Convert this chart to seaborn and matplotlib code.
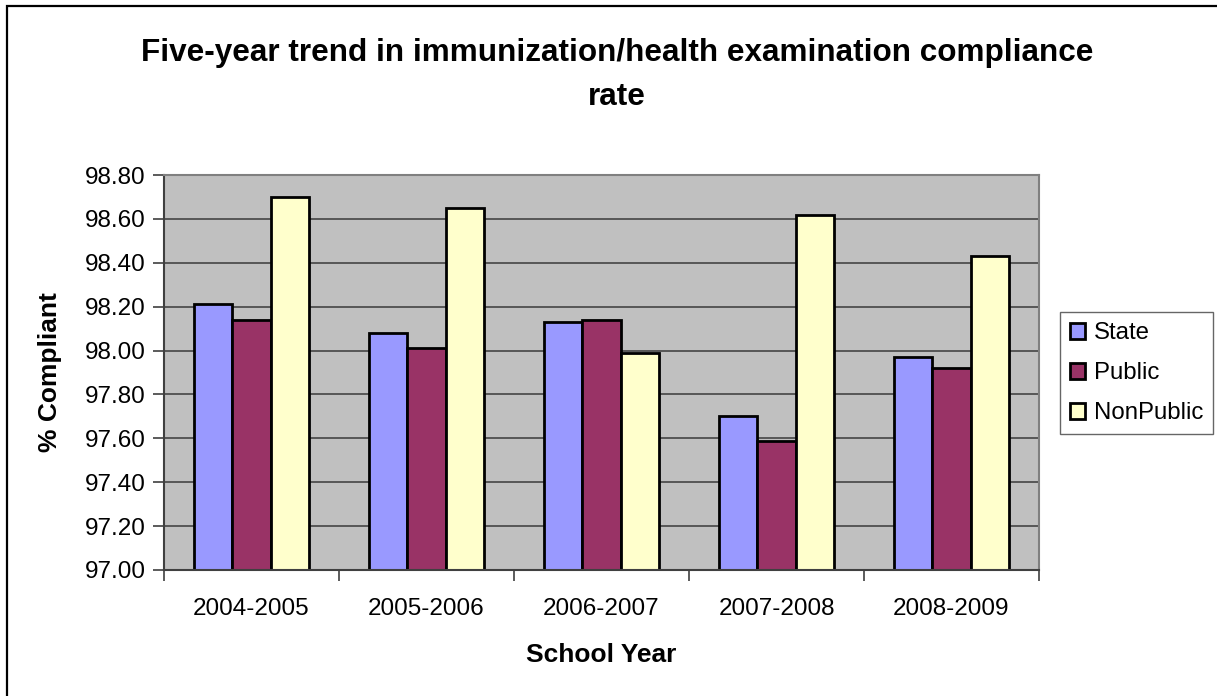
import numpy as np
import pandas as pd
import matplotlib
matplotlib.use("Agg")
import matplotlib.pyplot as plt
from matplotlib.patches import Rectangle
from matplotlib.ticker import FixedLocator
import seaborn as sns

sns.set_style("white")
plt.rcParams['font.family'] = ['Liberation Sans', 'DejaVu Sans']
plt.rcParams['text.color'] = 'black'
plt.rcParams['axes.labelcolor'] = 'black'
plt.rcParams['xtick.color'] = 'black'
plt.rcParams['ytick.color'] = 'black'

# values
years = ["2004-2005", "2005-2006", "2006-2007", "2007-2008", "2008-2009"]
groups = ["State", "Public", "NonPublic"]
state = [98.21, 98.08, 98.13, 97.70, 97.97]
public = [98.14, 98.01, 98.14, 97.59, 97.92]
nonpublic = [98.70, 98.65, 97.99, 98.62, 98.43]
colors = ["#9999FF", "#993366", "#FFFFCC"]
yticks = [97.00, 97.20, 97.40, 97.60, 97.80, 98.00, 98.20, 98.40, 98.60, 98.80]

df = pd.DataFrame({
    "year": years * 3,
    "group": ["State"] * 5 + ["Public"] * 5 + ["NonPublic"] * 5,
    "rate": state + public + nonpublic,
})

fig = plt.figure(figsize=(12.17, 6.96), dpi=100)
ax = fig.add_axes([164 / 1217, 1 - 570 / 696, 875 / 1217, 395 / 696])
ax.set_facecolor("#C0C0C0")

sns.barplot(data=df, x="year", y="rate", hue="group", order=years, hue_order=groups,
            palette=colors, saturation=1, width=0.66, edgecolor="black", linewidth=2,
            errorbar=None, ax=ax)

ax.set_ylim(97.0, 98.8)
ax.set_xlim(-0.5, 4.5)
ax.set_yticks(yticks)
ax.set_yticklabels(["%.2f" % v for v in yticks])
ax.yaxis.grid(True, color="#3a3a3a", linewidth=1.1)
ax.set_axisbelow(True)

# ticks between categories like Excel
ax.xaxis.set_minor_locator(FixedLocator(np.arange(-0.5, 5, 1)))
ax.tick_params(axis="x", which="major", bottom=True, length=0, pad=20, labelsize=17.5,
               labelcolor="black")
ax.tick_params(axis="x", which="minor", bottom=True, length=8, width=1.2, color="#404040",
               direction="out")
ax.tick_params(axis="y", left=True, length=8, width=1.2, color="#404040", direction="out",
               pad=5, labelsize=17.5, labelcolor="black")

for side in ["top", "right"]:
    ax.spines[side].set_color("#808080")
    ax.spines[side].set_linewidth(1.5)
for side in ["left", "bottom"]:
    ax.spines[side].set_color("#404040")
    ax.spines[side].set_linewidth(1.5)

ax.set_xlabel("School Year", fontsize=19, fontweight="bold", va="center")
ax.xaxis.set_label_coords(0.5, -0.215)
ax.set_ylabel("% Compliant", fontsize=19, fontweight="bold", va="center")
ax.yaxis.set_label_coords(-0.13, 0.5)

fig.text(617 / 1217, 1 - 75 / 696,
         "Five-year trend in immunization/health examination compliance\nrate",
         ha="center", va="center", fontsize=22.7, fontweight="bold", linespacing=1.65)

handles, labels = ax.get_legend_handles_labels()
ax.get_legend().remove()
leg = ax.legend(handles, labels, loc="center left", bbox_to_anchor=(1060 / 1217, 1 - 373 / 696),
                bbox_transform=fig.transFigure, fontsize=17.3, frameon=True, fancybox=False,
                handlelength=0.65, handleheight=0.65, handletextpad=0.35, labelspacing=0.75,
                borderpad=0.4, borderaxespad=0)
leg.get_frame().set_edgecolor("#404040")
leg.get_frame().set_linewidth(1)

# outer chart frame
fig.patches.append(Rectangle((7 / 1217, -0.05), 1.1, 1.05 - 5.5 / 696, transform=fig.transFigure,
                             fill=False, edgecolor="black", linewidth=1.6))

fig.savefig("out.png", dpi=100)
